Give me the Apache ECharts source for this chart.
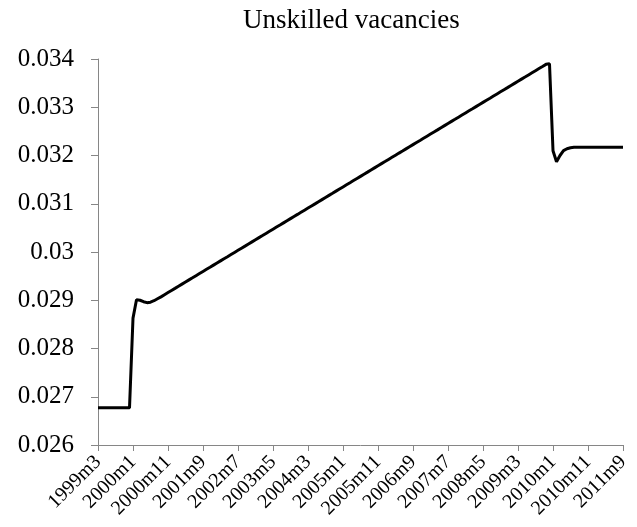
<!DOCTYPE html>
<html>
<head>
<meta charset="utf-8">
<script src="https://cdn.jsdelivr.net/npm/echarts@6/dist/echarts.min.js"></script>
<style>
    html, body { margin: 0; padding: 0; background: #fff; }
    #chart { width: 637px; height: 527px; }
</style>
</head>
<body>
<div id="chart"></div>
<script>
// monthly categories 1999m3 .. 2011m9
var startYear = 1999, startMonth = 3, monthCount = 151
var months = []
for (var i = 0; i < monthCount; i++) {
    var m = startMonth - 1 + i
    months.push((startYear + Math.floor(m / 12)) + 'm' + (m % 12 + 1))
}

// unskilled vacancies
var vacancies = [
    0.02677, 0.02677, 0.02677, 0.02677, 0.02677, 0.02677, 0.02677, 0.02677, 0.02677, 0.02677,
    0.02863, 0.02901, 0.02900, 0.02897, 0.02895, 0.02896, 0.02899, 0.02903, 0.02907,
    0.029115, 0.029159, 0.029203, 0.029246, 0.029290, 0.029334, 0.029378, 0.029422, 0.029465, 0.029509,
    0.029553, 0.029597, 0.029641, 0.029684, 0.029728, 0.029772, 0.029816, 0.029860, 0.029903, 0.029947,
    0.029991, 0.030035, 0.030079, 0.030122, 0.030166, 0.030210, 0.030254, 0.030298, 0.030341, 0.030385,
    0.030429, 0.030473, 0.030517, 0.030560, 0.030604, 0.030648, 0.030692, 0.030736, 0.030779, 0.030823,
    0.030867, 0.030911, 0.030955, 0.030998, 0.031042, 0.031086, 0.031130, 0.031174, 0.031217, 0.031261,
    0.031305, 0.031349, 0.031393, 0.031436, 0.031480, 0.031524, 0.031568, 0.031612, 0.031655, 0.031699,
    0.031743, 0.031787, 0.031831, 0.031874, 0.031918, 0.031962, 0.032006, 0.032050, 0.032093, 0.032137,
    0.032181, 0.032225, 0.032269, 0.032312, 0.032356, 0.032400, 0.032444, 0.032488, 0.032531, 0.032575,
    0.032619, 0.032663, 0.032707, 0.032750, 0.032794, 0.032838, 0.032882, 0.032926, 0.032969, 0.033013,
    0.033057, 0.033101, 0.033145, 0.033188, 0.033232, 0.033276, 0.033320, 0.033364, 0.033407, 0.033451,
    0.033495, 0.033539, 0.033583, 0.033626, 0.033670, 0.033714, 0.033758, 0.033802, 0.033845, 0.033889,
    0.03390,
    0.03210, 0.03187, 0.03200, 0.03210, 0.03214, 0.03216,
    0.03217, 0.03217, 0.03217, 0.03217, 0.03217, 0.03217, 0.03217,
    0.03217, 0.03217, 0.03217, 0.03217, 0.03217, 0.03217, 0.03217, 0.03217
]

var yMin = 0.026, yMax = 0.034, yStep = 0.001

var chart = echarts.init(document.getElementById('chart'))
var option = {
    animation: false,
    title: {
        text: 'Unskilled vacancies',
        left: 238,
        top: 2,
        textStyle: { fontFamily: 'Liberation Serif', fontWeight: 'normal', fontSize: 27, color: '#000' }
    },
    grid: { left: 98, right: 14, top: 59, bottom: 82 },
    xAxis: {
        type: 'category',
        data: months,
        boundaryGap: false,
        axisLine: { lineStyle: { color: '#868686', width: 1 } },
        axisTick: { interval: 9, length: 6, lineStyle: { color: '#868686' } },
        axisLabel: {
            interval: 9,
            rotate: 45,
            margin: 14,
            fontFamily: 'Liberation Serif',
            fontSize: 20,
            color: '#000'
        },
        splitLine: { show: false }
    },
    yAxis: {
        type: 'value',
        min: yMin,
        max: yMax,
        interval: yStep,
        axisLine: { show: true, lineStyle: { color: '#868686', width: 1 } },
        axisTick: { show: true, length: 7, lineStyle: { color: '#868686' } },
        axisLabel: {
            margin: 24,
            fontFamily: 'Liberation Serif',
            fontSize: 25,
            color: '#000',
            formatter: function (v) { return String(+v.toFixed(3)) }
        },
        splitLine: { show: false }
    },
    series: [{
        name: 'Unskilled vacancies',
        type: 'line',
        data: vacancies,
        showSymbol: false,
        lineStyle: { color: '#000', width: 3 }
    }]
}
chart.setOption(option)
</script>
</body>
</html>
